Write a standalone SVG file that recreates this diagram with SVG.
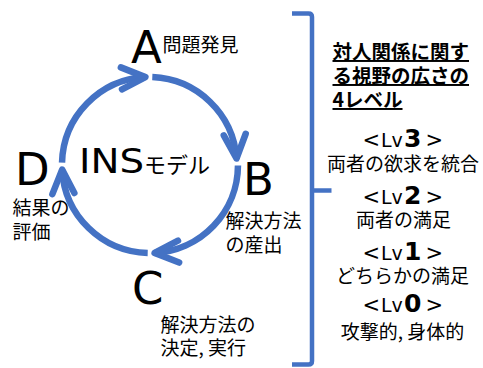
<svg xmlns="http://www.w3.org/2000/svg" width="483" height="368" viewBox="0 0 483 368">
<style>
.big{font-family:"DejaVu Sans","Noto Sans",sans-serif;font-size:45px;fill:#000}
.jp{font-family:"Noto Sans CJK JP",sans-serif;font-size:19px;fill:#000}
.lv{font-family:"DejaVu Sans",sans-serif;font-size:19px;fill:#000}
.br{font-size:21px}
.num{font-size:25px;font-weight:bold}
.ttl{font-family:"Noto Sans CJK JP",sans-serif;font-size:19.5px;font-weight:bold;fill:#000;text-decoration:underline}
.arc{fill:none;stroke:#4472C4;stroke-width:6.5;stroke-linecap:butt;marker-end:url(#ah)}
.brk{fill:none;stroke:#4472C4;stroke-width:4.5}
</style>
<defs>
<marker id="ah" markerUnits="userSpaceOnUse" markerWidth="60" markerHeight="60" viewBox="-30 -30 60 60" refX="0" refY="0" orient="auto" overflow="visible">
<path d="M-24,-11 L0,0 L-24,11" fill="none" stroke="#4472C4" stroke-width="6.5" stroke-linecap="round" stroke-linejoin="round"/>
</marker>
</defs>
<g id="connectors">
<path class="arc" d="M62.03,162.7 A88,88 0 0 1 145.4,77.12"/>
<path class="arc" d="M152.3,77.03 A88,88 0 0 1 236.5,158.5"/>
<path class="arc" d="M237.97,165.5 A88,88 0 0 1 154.6,252.88"/>
<path class="arc" d="M147.7,252.97 A88,88 0 0 1 62.12,169.6"/>
</g>
<g id="title">
<text x="79" y="173" font-family="DejaVu Sans,sans-serif" font-size="34" textLength="65" lengthAdjust="spacingAndGlyphs" fill="#000">INS</text>
<text x="144" y="173" font-family="Noto Sans CJK JP,sans-serif" font-size="22" fill="#000">モデル</text>
</g>
<g id="nodeA">
<text class="big" x="131" y="63">A</text>
<text class="jp" x="162.5" y="52">問題発見</text>
</g>
<g id="nodeB">
<text class="big" x="243" y="195">B</text>
<text class="jp" x="225.5" y="228">解決方法</text>
<text class="jp" x="225.5" y="252">の産出</text>
</g>
<g id="nodeC">
<text class="big" x="132" y="304">C</text>
<text class="jp" x="160.5" y="332">解決方法の</text>
<text class="jp" x="160.5" y="355">決定, 実行</text>
</g>
<g id="nodeD">
<text class="big" x="15" y="185">D</text>
<text class="jp" x="12.5" y="215">結果の</text>
<text class="jp" x="12.5" y="239">評価</text>
</g>
<g id="bracket">
<path class="brk" d="M292,13.5 L308.5,13.5 Q312,13.5 312,17 L312,361 Q312,364.5 308.5,364.5 L292,364.5"/>
<path class="brk" d="M312,190.5 L331.5,190.5"/>
</g>
<g id="levels">
<text class="ttl" x="332.5" y="59">対人関係に関す</text>
<text class="ttl" x="332.5" y="83">る視野の広さの</text>
<text class="ttl" x="332.5" y="107">4レベル</text>
<g id="lv3">
<text class="lv" y="146.5"><tspan class="br" x="362.5">&lt;</tspan><tspan x="381">Lv</tspan><tspan class="num" x="404">3</tspan><tspan class="br" x="425.5">&gt;</tspan></text>
<text class="jp" x="403" y="170.5" text-anchor="middle" font-size="19.5">両者の欲求を統合</text>
</g>
<g id="lv2">
<text class="lv" y="204"><tspan class="br" x="362.5">&lt;</tspan><tspan x="381">Lv</tspan><tspan class="num" x="404">2</tspan><tspan class="br" x="425.5">&gt;</tspan></text>
<text class="jp" x="403.5" y="227" text-anchor="middle" font-size="19.5">両者の満足</text>
</g>
<g id="lv1">
<text class="lv" y="260"><tspan class="br" x="362.5">&lt;</tspan><tspan x="381">Lv</tspan><tspan class="num" x="404">1</tspan><tspan class="br" x="425.5">&gt;</tspan></text>
<text class="jp" x="402.5" y="283" text-anchor="middle" font-size="19.5">どちらかの満足</text>
</g>
<g id="lv0">
<text class="lv" y="311.5"><tspan class="br" x="362.5">&lt;</tspan><tspan x="381">Lv</tspan><tspan class="num" x="404">0</tspan><tspan class="br" x="425.5">&gt;</tspan></text>
<text class="jp" x="402.5" y="339" text-anchor="middle" font-size="19.5">攻撃的, 身体的</text>
</g>
</g>
</svg>
